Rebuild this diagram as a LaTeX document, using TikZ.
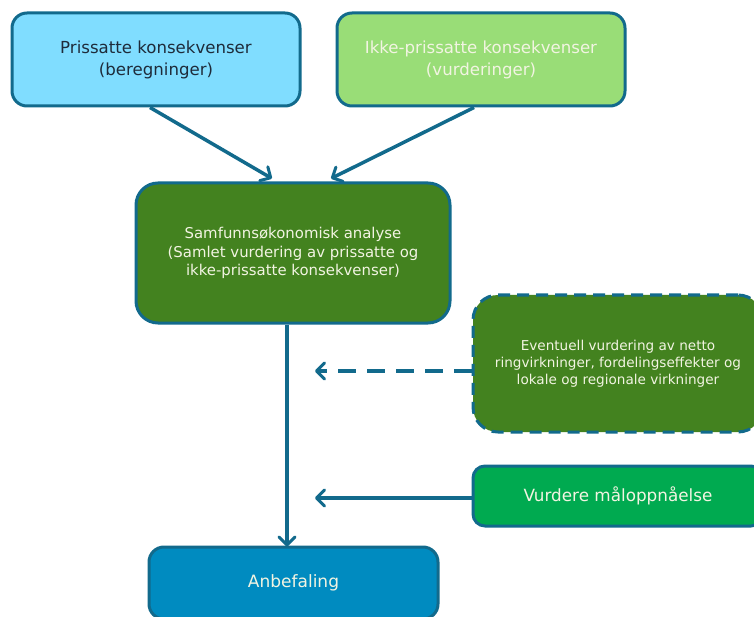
\documentclass[tikz,border=0pt]{standalone}
\usepackage{fontspec}
\setmainfont{DejaVu Sans}
\usetikzlibrary{arrows.meta,calc}
\definecolor{bord}{HTML}{126A8C}
\definecolor{fillA}{HTML}{80DDFF}
\definecolor{fillB}{HTML}{99DD77}
\definecolor{fillC}{HTML}{43821F}
\definecolor{fillE}{HTML}{00AA50}
\definecolor{fillF}{HTML}{008BC0}
\definecolor{txtdark}{HTML}{1E2B3A}
\definecolor{txtlight}{HTML}{F2F4E2}
\begin{document}
\begin{tikzpicture}[x=1pt,y=-1pt,
  box/.style={draw=bord, line width=3pt, rounded corners=15pt, align=center, inner sep=0pt},
  conn/.style={draw=bord, line width=3.5pt, -{Straight Barb[length=8pt,width=16pt,line width=3pt,round]}},
  dconn/.style={conn, dash pattern=on 18pt off 11pt}]
\useasboundingbox (0,0) rectangle (754,617);
\clip (0,0) rectangle (754,617);
\fill[white] (0,0) rectangle (754,617);

\node[box, fill=fillA, text=txtdark, minimum width=288pt, minimum height=93pt,
  font=\fontsize{16.6}{22}\selectfont] (A) at (156,59.5) {Prissatte konsekvenser\\(beregninger)};
\node[box, fill=fillB, text=txtlight, minimum width=288pt, minimum height=93pt,
  font=\fontsize{16.6}{22}\selectfont] (B) at (481,59.5) {Ikke-prissatte konsekvenser\\(vurderinger)};
\node[box, fill=fillC, text=txtlight, rounded corners=22pt, minimum width=314pt, minimum height=140pt,
  font=\fontsize{14.9}{18.5}\selectfont] (C) at (293,253) {Samfunnsøkonomisk analyse\\(Samlet vurdering av prissatte og\\ikke-prissatte konsekvenser)};
\node[box, fill=fillC, text=txtlight, rounded corners=25pt, dash pattern=on 12pt off 7pt,
  minimum width=290pt, minimum height=137pt,
  font=\fontsize{13.6}{17}\selectfont] (D) at (618,363.5) {Eventuell vurdering av netto\\ringvirkninger, fordelingseffekter og\\lokale og regionale virkninger};
\node[box, fill=fillE, text=txtlight, rounded corners=12pt, minimum width=290pt, minimum height=60pt,
  font=\fontsize{16.8}{20}\selectfont] (E) at (618,496) {Vurdere måloppnåelse};
\node[box, fill=fillF, text=txtlight, minimum width=289pt, minimum height=72pt,
  font=\fontsize{17}{20}\selectfont] (F) at (293.5,583) {Anbefaling};

\coordinate (dE) at (315,371);
\coordinate (eE) at (315,498);

\draw[conn] ([xshift=-6pt]A.south) -- ([xshift=-21pt,yshift=3pt]C.north);
\draw[conn] ([xshift=-7pt]B.south) -- ([xshift=38pt,yshift=3pt]C.north);
\draw[conn] ([xshift=-6pt]C.south) -- ([xshift=-6.5pt,yshift=-1pt]F.north);
\draw[dconn] ([yshift=-7.5pt]D.west) -- (dE);
\draw[conn] ([yshift=-2pt]E.west) -- (eE);
\end{tikzpicture}
\end{document}
